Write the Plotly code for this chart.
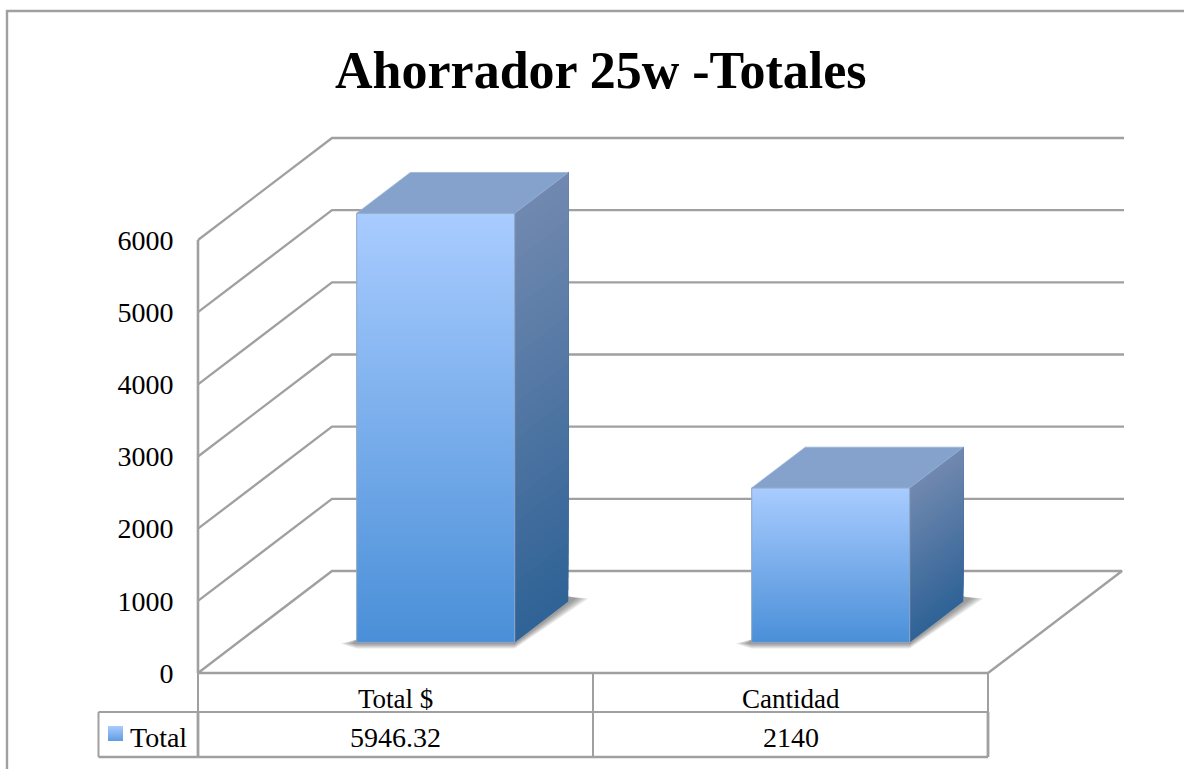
import plotly.graph_objects as go

# ---- data ----
title_text = "Ahorrador 25w -Totales"
series_name = "Total"
categories = ["Total $", "Cantidad"]
values = [5946.32, 2140]
value_labels = ["5946.32", "2140"]
tick_values = [0, 1000, 2000, 3000, 4000, 5000, 6000]

# ---- layout constants (page is 1184 x 769) ----
W, H = 1184, 769
ORIGIN_X, ORIGIN_Y = 198, 673
PX_PER_CAT = 395
PX_PER_VAL = 433 / 6000
DEPTH_DX, DEPTH_DY = 134, 102
GREY = "#a0a0a0"
FONT = "Liberation Serif"


def px_x(p):
    return (p - ORIGIN_X) / PX_PER_CAT


def px_y(p):
    return (ORIGIN_Y - p) / PX_PER_VAL


def proj(u, v, d):
    """oblique projection: category u, value v, depth d"""
    return u + d * DEPTH_DX / PX_PER_CAT, v + d * DEPTH_DY / PX_PER_VAL


def poly(points):
    xs, ys = zip(*points)
    return list(xs) + [xs[0]], list(ys) + [ys[0]]


def lerp(a, b, t):
    return "rgb(%d,%d,%d)" % tuple(round(a[i] + (b[i] - a[i]) * t) for i in range(3))


fig = go.Figure()


def add_line(xs, ys, width=2.0, color=GREY):
    fig.add_trace(go.Scatter(x=xs, y=ys, mode="lines", line=dict(color=color, width=width),
                             hoverinfo="skip", showlegend=False))


def add_fill(points, fill, line=None, width=0.0):
    xs, ys = poly(points)
    d = dict(x=xs, y=ys, mode="lines", fill="toself", hoverinfo="skip", showlegend=False,
             line=dict(color=line or "rgba(0,0,0,0)", width=width))
    if isinstance(fill, str):
        d["fillcolor"] = fill
    else:
        d["fillgradient"] = fill
    fig.add_trace(go.Scatter(**d))


n_cat = len(categories)

# frame
add_line([px_x(7), px_x(7), px_x(W)], [px_y(H), px_y(11), px_y(11)], 2.4)

# walls, gridlines, floor
for t in tick_values:
    x0, y0 = proj(0, t, 0)
    x1, y1 = proj(0, t, 1)
    x2, y2 = proj(n_cat, t, 1)
    if t == 0:
        x3, y3 = proj(n_cat, 0, 0)
        add_line([x0, x1, x2, x3, x0], [y0, y1, y2, y3, y0], 2.4)
    else:
        add_line([x0, x1, x2 + 2 / PX_PER_CAT], [y0, y1, y2], 2.3)
add_line([0, 0], [tick_values[0], tick_values[-1]], 2.6)

# data table lines
ROW1, ROW2 = px_y(712), px_y(757)
LEFT = px_x(98.5)
add_line([LEFT, n_cat], [ROW1, ROW1], 2.0)
add_line([LEFT, n_cat], [ROW2, ROW2], 2.6)
add_line([LEFT, LEFT], [ROW1, ROW2], 2.0)
for u in range(n_cat + 1):
    add_line([u, u], [0, ROW2], 2.0)
add_line([0, 0], [ROW1, ROW2], 2.8)
add_line([n_cat, n_cat], [ROW1, ROW2], 2.8)

# bars
FACE_TOP, FACE_BOT = "#a9ccff", "#4a8fd8"
SIDE_TOP, SIDE_BOT = (113, 137, 175), (47, 98, 150)
TOP_COLOR = "#84a2cb"
N_STRIPS = 36
BAR_U0, BAR_U1 = 0.3, 0.7
BAR_D0, BAR_D1 = 0.3, 0.7

for i, val in enumerate(values):
    u0, u1 = i + BAR_U0, i + BAR_U1
    fl = proj(u0, 0, BAR_D0)
    fr = proj(u1, 0, BAR_D0)
    br = proj(u1, 0, BAR_D1)

    # soft floor shadow
    for s in (1.0, 0.85, 0.7, 0.55, 0.4, 0.25):
        ox, oy = 1 / PX_PER_CAT, 1 / PX_PER_VAL
        pts = [
            (fl[0] - 16 * s * ox, fl[1] - 1 * oy),
            (fl[0], fl[1] - 6 * s * oy),
            (fr[0], fr[1] - 6 * s * oy),
            (br[0] + (4 + 16 * s) * ox, br[1] + 3 * oy),
            (br[0], br[1] + 5 * oy),
            (fr[0], fr[1] + 3 * oy),
            (fl[0], fl[1] + 3 * oy),
        ]
        add_fill(pts, "rgba(60,60,60,0.11)")

    # side face: strips along the depth direction, painted bottom-up so no seams show
    for k in range(N_STRIPS):
        v0 = val * k / N_STRIPS
        col = lerp(SIDE_BOT, SIDE_TOP, (k + 0.5) / N_STRIPS)
        add_fill([proj(u1, v0, BAR_D0), proj(u1, v0, BAR_D1), proj(u1, val, BAR_D1), proj(u1, val, BAR_D0)], col)

    # top face
    add_fill([proj(u0, val, BAR_D0), proj(u1, val, BAR_D0), proj(u1, val, BAR_D1), proj(u0, val, BAR_D1)],
             TOP_COLOR, line="#9db5d6", width=0.8)

    # front face
    add_fill([proj(u0, 0, BAR_D0), proj(u1, 0, BAR_D0), proj(u1, val, BAR_D0), proj(u0, val, BAR_D0)],
             dict(type="vertical", colorscale=[[0, FACE_BOT], [1, FACE_TOP]]),
             line="#8ea6c4", width=1.0)

# legend swatch in the data table
add_fill([(px_x(108), px_y(726)), (px_x(123), px_y(726)), (px_x(123), px_y(741)), (px_x(108), px_y(741))],
         dict(type="vertical", colorscale=[[0, "#5f9de0"], [1, FACE_TOP]]))

# table text
annotations = []
for i, cat in enumerate(categories):
    annotations.append(dict(x=i + 0.5, y=px_y(699), text=cat, xref="x", yref="y", showarrow=False,
                            xanchor="center", yanchor="middle", font=dict(family=FONT, size=27, color="#000")))
    annotations.append(dict(x=i + 0.5, y=px_y(737), text=value_labels[i], xref="x", yref="y", showarrow=False,
                            xanchor="center", yanchor="middle", font=dict(family=FONT, size=28, color="#000")))
annotations.append(dict(x=px_x(128), y=px_y(737), text=series_name, xref="x", yref="y", showarrow=False,
                        xanchor="left", yanchor="middle", font=dict(family=FONT, size=28, color="#000")))
annotations.append(dict(x=px_x(601), y=px_y(70), text="<b>%s</b>" % title_text, xref="x", yref="y", showarrow=False,
                        xanchor="center", yanchor="middle", font=dict(family=FONT, size=52, color="#000")))

fig.update_layout(
    width=W, height=H,
    margin=dict(l=0, r=0, t=0, b=0),
    paper_bgcolor="white", plot_bgcolor="white",
    showlegend=False,
    annotations=annotations,
    xaxis=dict(range=[px_x(0), px_x(W)], visible=False, fixedrange=True),
    yaxis=dict(range=[px_y(H), px_y(0)], anchor="free", position=ORIGIN_X / W, side="left",
               tickmode="array", tickvals=tick_values, ticktext=[str(t) for t in tick_values],
               ticks="outside", ticklen=19, tickcolor="rgba(0,0,0,0)",
               tickfont=dict(family=FONT, size=28, color="#000"),
               showgrid=False, zeroline=False, showline=False, fixedrange=True),
)

fig.write_html("out.html", config=dict(displayModeBar=False),
               post_script="document.body.style.margin='0';document.body.style.overflow='hidden';")
